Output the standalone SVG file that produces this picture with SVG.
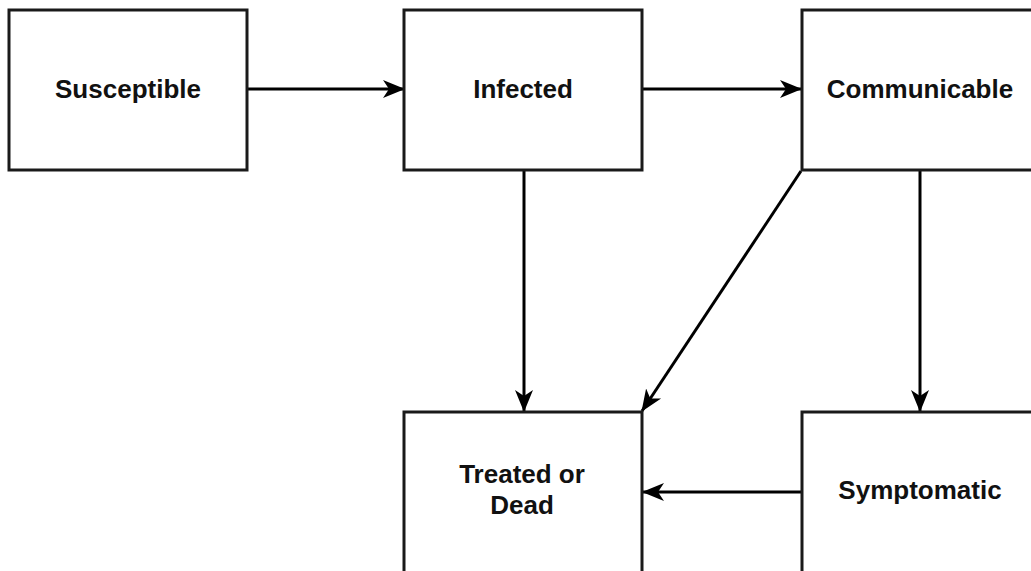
<svg xmlns="http://www.w3.org/2000/svg" width="1031" height="571" viewBox="0 0 1031 571">
  <style>
    .box { fill: #ffffff; stroke: #1a1a1a; stroke-width: 3; }
    .label { font-family: "Liberation Sans", Arial, sans-serif; font-weight: bold; font-size: 26px; fill: #111111; text-anchor: middle; }
    .edge { fill: none; stroke: #000000; stroke-width: 3; marker-end: url(#arrow); }
  </style>
  <defs>
    <marker id="arrow" viewBox="0 0 22 20" refX="21" refY="10" markerWidth="22" markerHeight="20" markerUnits="userSpaceOnUse" orient="auto">
      <path d="M0,1 L22,10 L0,19 L6,10 Z" fill="#000000"/>
    </marker>
  </defs>
  <rect width="1031" height="571" fill="#ffffff"/>

  <g id="connectors">
    <line class="edge" x1="247" y1="89" x2="404" y2="89"/>
    <line class="edge" x1="643" y1="89" x2="801" y2="89"/>
    <line class="edge" x1="524" y1="171" x2="524" y2="411"/>
    <line class="edge" x1="920" y1="171" x2="920" y2="411"/>
    <line class="edge" x1="801" y1="171" x2="642" y2="411"/>
    <line class="edge" x1="801" y1="492" x2="643" y2="492"/>
  </g>

  <g id="susceptible">
    <rect class="box" x="9" y="10" width="238" height="160"/>
    <text class="label" x="128" y="98">Susceptible</text>
  </g>
  <g id="infected">
    <rect class="box" x="404" y="10" width="238" height="160"/>
    <text class="label" x="523" y="98">Infected</text>
  </g>
  <g id="communicable">
    <rect class="box" x="802" y="10" width="238" height="160"/>
    <text class="label" x="920" y="98">Communicable</text>
  </g>
  <g id="treated-or-dead">
    <rect class="box" x="404" y="412" width="238" height="162"/>
    <text class="label" x="522" y="483">Treated or</text>
    <text class="label" x="522" y="514">Dead</text>
  </g>
  <g id="symptomatic">
    <rect class="box" x="802" y="412" width="238" height="162"/>
    <text class="label" x="920" y="499">Symptomatic</text>
  </g>
</svg>
